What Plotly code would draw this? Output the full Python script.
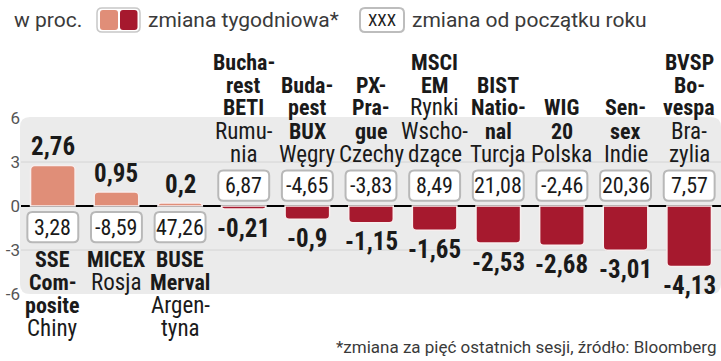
import plotly.graph_objects as go

# ---------------- data ----------------
categories = ["SSE Composite", "MICEX", "BUSE Merval", "Bucharest BETI", "Budapest BUX",
              "PX-Prague", "MSCI EM", "BIST National", "WIG 20", "Sensex", "BVSP Bovespa"]
index_lines = [["SSE", "Com-", "posite"], ["MICEX"], ["BUSE", "Merval"],
               ["Bucha-", "rest", "BETI"], ["Buda-", "pest", "BUX"], ["PX-", "Pra-", "gue"],
               ["MSCI", "EM"], ["BIST", "Natio-", "nal"], ["WIG", "20"], ["Sen-", "sex"],
               ["BVSP", "Bo-", "vespa"]]
country_lines = [["Chiny"], ["Rosja"], ["Argen-", "tyna"], ["Rumu-", "nia"], ["Węgry"],
                 ["Czechy"], ["Rynki", "Wscho-", "dzące"], ["Turcja"], ["Polska"], ["Indie"],
                 ["Bra-", "zylia"]]
weekly_change = [2.76, 0.95, 0.2, -0.21, -0.9, -1.15, -1.65, -2.53, -2.68, -3.01, -4.13]
ytd_change = [3.28, -8.59, 47.26, 6.87, -4.65, -3.83, 8.49, 21.08, -2.46, 20.36, 7.57]
y_tick_values = [-6, -3, 0, 3, 6]
y_tick_labels = ["-6", "-3", "0", "3", "6"]

legend_prefix = "w proc."
legend_weekly = "zmiana tygodniowa*"
legend_ytd = "zmiana od początku roku"
legend_box_text = "XXX"
footer = "*zmiana za pięć ostatnich sesji, źródło: Bloomberg"

# ---------------- style ----------------
W, H = 721, 361
ML, MR, MT, MB = 21, 0, 118, 67
PW, PH = W - ML - MR, H - MT - MB
POS_COL = "#E08E78"
NEG_COL = "#A6192E"
BG = "#EBEBEB"
TXT = "#1a1a1a"
FN = "Roboto Condensed, Liberation Sans Narrow, sans-serif"
FR = "Roboto, Liberation Sans, sans-serif"
YMIN, YMAX = -6, 6
XMIN, XMAX = -0.5, len(categories) - 0.5


def px2p(x):  # pixel x -> paper
    return (x - ML) / PW


def py2p(y):  # pixel y -> paper
    return (H - MB - y) / PH


def fmt(v):
    return ("%g" % v).replace(".", ",")


def rrect(x0, y0, x1, y1, rx, ry):
    return (f"M {x0+rx},{y0} L {x1-rx},{y0} Q {x1},{y0} {x1},{y0+ry} "
            f"L {x1},{y1-ry} Q {x1},{y1} {x1-rx},{y1} L {x0+rx},{y1} "
            f"Q {x0},{y1} {x0},{y1-ry} L {x0},{y0+ry} Q {x0},{y0} {x0+rx},{y0} Z")


xs = list(range(len(categories)))
colors = [POS_COL if v > 0 else NEG_COL for v in weekly_change]

fig = go.Figure()
fig.add_trace(go.Bar(
    x=xs, y=weekly_change, width=0.7,
    marker=dict(color=colors, line=dict(color="#f7eeee", width=1.5), cornerradius=4),
    hoverinfo="skip", showlegend=False,
))

shapes = []
ann = []

# background panel (rounded)
shapes.append(dict(type="path", xref="paper", yref="paper", layer="below",
                   path=rrect(px2p(20), 0, 1, py2p(117), 10 / PW, 10 / PH),
                   fillcolor=BG, line=dict(width=0)))
# grid lines at +-3
for gv in [-3, 3]:
    shapes.append(dict(type="line", xref="x", yref="y", layer="below",
                       x0=XMIN, x1=XMAX, y0=gv, y1=gv, line=dict(color="#d4d4d4", width=1)))

ux = (XMAX - XMIN) / PW
uy = (YMAX - YMIN) / PH

for i, (w, ytd) in enumerate(zip(weekly_change, ytd_change)):
    if w < 0:
        by0, by1 = 0.36, 2.42
    else:
        by0, by1 = -2.47, -0.41
    shapes.append(dict(type="path", xref="x", yref="y", layer="above",
                       path=rrect(i - 0.4, by0, i + 0.4, by1, 5 * ux, 5 * uy),
                       fillcolor="white", line=dict(color="#b8b8b8", width=2)))
    ann.append(dict(x=i, y=(by0 + by1) / 2, xref="x", yref="y", text=fmt(ytd),
                    showarrow=False, font=dict(family=FN, size=22, color=TXT),
                    xanchor="center", yanchor="middle"))
    ann.append(dict(x=i, y=w, xref="x", yref="y", text="<b>" + fmt(w) + "</b>",
                    showarrow=False, font=dict(family=FN, size=25, color=TXT),
                    xanchor="center", yanchor="middle", yshift=19 if w > 0 else -19))
    lines = [("<b>%s</b>" % t, 22) for t in index_lines[i]] + \
            [(t, 23) for t in country_lines[i]]
    n = len(lines)
    for k, (t, sz) in enumerate(lines):
        if w < 0:
            cy = 154 - 23 * (n - 1 - k)
        else:
            cy = 259 + 23 * k
        ann.append(dict(x=i, y=py2p(cy), xref="x", yref="paper", text=t,
                        showarrow=False, font=dict(family=FN, size=sz, color=TXT),
                        xanchor="center", yanchor="middle"))

# legend
LC = "#3a3a3a"
ann.append(dict(x=px2p(12), y=py2p(20), xref="paper", yref="paper", text=legend_prefix,
                showarrow=False, font=dict(family=FR, size=21, color=LC),
                xanchor="left", yanchor="middle"))
shapes.append(dict(type="path", xref="paper", yref="paper",
                   path=rrect(px2p(97), py2p(32), px2p(140), py2p(8), 5 / PW, 5 / PH),
                   fillcolor="white", line=dict(color="#c8c8c8", width=1.5)))
shapes.append(dict(type="path", xref="paper", yref="paper",
                   path=rrect(px2p(100), py2p(30), px2p(118), py2p(10), 3 / PW, 3 / PH),
                   fillcolor=POS_COL, line=dict(width=0)))
shapes.append(dict(type="path", xref="paper", yref="paper",
                   path=rrect(px2p(120), py2p(30), px2p(137.5), py2p(10), 3 / PW, 3 / PH),
                   fillcolor=NEG_COL, line=dict(width=0)))
ann.append(dict(x=px2p(146), y=py2p(20), xref="paper", yref="paper", text=legend_weekly,
                showarrow=False, font=dict(family=FR, size=21, color=LC),
                xanchor="left", yanchor="middle"))
shapes.append(dict(type="path", xref="paper", yref="paper",
                   path=rrect(px2p(360), py2p(32), px2p(404), py2p(8), 5 / PW, 5 / PH),
                   fillcolor="white", line=dict(color="#bdbdbd", width=2)))
ann.append(dict(x=px2p(382), y=py2p(20), xref="paper", yref="paper", text=legend_box_text,
                showarrow=False, font=dict(family=FN, size=17, color="#222"),
                xanchor="center", yanchor="middle"))
ann.append(dict(x=px2p(410), y=py2p(20), xref="paper", yref="paper", text=legend_ytd,
                showarrow=False, font=dict(family=FR, size=21, color=LC),
                xanchor="left", yanchor="middle"))
# footer
ann.append(dict(x=px2p(718), y=py2p(347), xref="paper", yref="paper", text=footer,
                showarrow=False, font=dict(family=FR, size=17, color=LC),
                xanchor="right", yanchor="middle"))

fig.update_layout(
    width=W, height=H, margin=dict(l=ML, r=MR, t=MT, b=MB, pad=0),
    paper_bgcolor="white", plot_bgcolor="rgba(0,0,0,0)",
    shapes=shapes, annotations=ann, showlegend=False, bargap=0.3,
    xaxis=dict(range=[XMIN, XMAX], showticklabels=False, showgrid=False, zeroline=False,
               fixedrange=True),
    yaxis=dict(range=[YMIN, YMAX], tickvals=y_tick_values, ticktext=y_tick_labels,
               showgrid=False, zeroline=True, zerolinecolor="black", zerolinewidth=1.5,
               tickfont=dict(family=FR, size=17, color="#555"),
               ticks="", fixedrange=True),
)

fig.write_html("out.html", post_script="document.body.style.margin='0';",
               config={"displayModeBar": False})
